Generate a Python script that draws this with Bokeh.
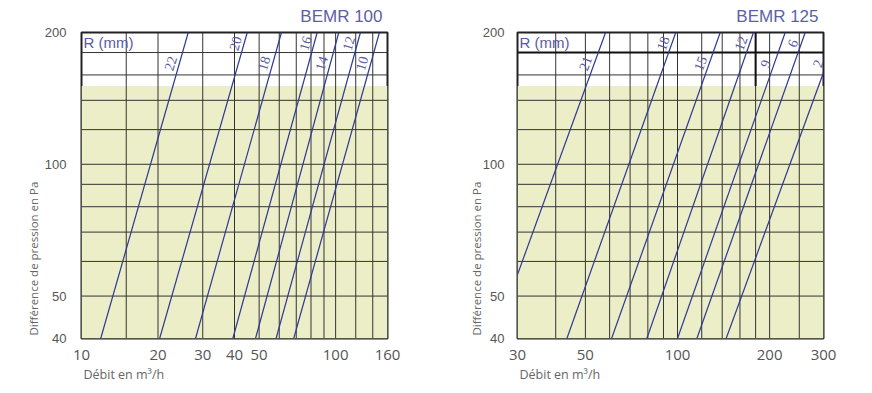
import math
from bokeh.plotting import figure
from bokeh.layouts import row
from bokeh.models import (Range1d, FixedTicker, PrintfTickFormatter, Label, LabelSet,
                          ColumnDataSource, Title)
from bokeh.embed import file_html
from bokeh.resources import INLINE

# ---------------- data ----------------
y_min, y_max = 40, 200
y_ticks = [40, 50, 100, 200]
y_grid = [50, 60, 70, 80, 90, 100, 120, 140, 160, 180]
green_top = 151
row_pressure = {1: 189, 2: 170}

# BEMR 100
l_title = "BEMR 100"
l_xmin, l_xmax = 10, 160
l_xticks = [10, 20, 30, 40, 50, 100, 160]
l_xgrid = [15, 20, 30, 40, 50, 60, 70, 80, 90, 100, 120, 140]
l_labels = ["22", "20", "18", "16", "14", "12", "10"]
l_qa = [11.9, 20.3, 28.1, 39.4, 48.4, 58.3, 68.4]
l_pa = [40, 40, 40, 40, 40, 40, 40]
l_qb = [26.3, 44.9, 61.2, 84.6, 102.9, 125.2, 148.7]
l_pb = [200, 200, 200, 200, 200, 200, 200]
l_rows = [2, 1, 2, 1, 2, 1, 2]
l_heavy_y = []
l_heavy_x = []

# BEMR 125
r_title = "BEMR 125"
r_xmin, r_xmax = 30, 300
r_xticks = [30, 50, 100, 200, 300]
r_xgrid = [40, 50, 60, 70, 80, 90, 100, 120, 140, 160, 180, 200, 250]
r_labels = ["21", "18", "15", "12", "9", "6", "2"]
r_qa = [30, 43.5, 60.9, 79.4, 100, 115.7, 144.2]
r_pa = [56, 40, 40, 40, 40, 40, 40]
r_qb = [58.2, 98.7, 137.9, 177.1, 224.9, 261.4, 300]
r_pb = [200, 200, 200, 200, 200, 200, 162]
r_rows = [2, 1, 2, 1, 2, 1, 2]
r_heavy_y = [180]
r_heavy_x = [180]

GREEN = "#eceec8"
CURVE = "#2d3994"
LABEL = "#5a5aa2"
GRID = "#333333"
GRAYTXT = "#555555"


def q_at(qa, pa, qb, pb, p):
    t = (math.log(p) - math.log(pa)) / (math.log(pb) - math.log(pa))
    return math.exp(math.log(qa) + t * (math.log(qb) - math.log(qa)))


def make_chart(title, xmin, xmax, xticks, xgrid, labels, qa, pa, qb, pb, rows,
               heavy_y, heavy_x, width, bl, br, ytitle_standoff, ystandoff, angle):
    p = figure(width=width, height=385, x_axis_type="log", y_axis_type="log",
               x_range=Range1d(xmin, xmax), y_range=Range1d(y_min, y_max),
               output_backend="svg", toolbar_location=None,
               min_border_left=bl, min_border_right=br,
               min_border_top=32, min_border_bottom=47)
    p.background_fill_color = "white"
    p.border_fill_color = "white"
    p.outline_line_color = "#222222"
    p.outline_line_width = 2
    p.grid.visible = False

    # green zone
    p.quad(left=[xmin], right=[xmax], bottom=[y_min], top=[green_top],
           fill_color=GREEN, line_color=None)
    # grid
    p.segment(x0=xgrid, y0=[y_min] * len(xgrid), x1=xgrid, y1=[y_max] * len(xgrid),
              line_color=GRID, line_width=1)
    p.segment(x0=[xmin] * len(y_grid), y0=y_grid, x1=[xmax] * len(y_grid), y1=y_grid,
              line_color=GRID, line_width=1)
    if heavy_y:
        p.segment(x0=[xmin] * len(heavy_y), y0=heavy_y, x1=[xmax] * len(heavy_y), y1=heavy_y,
                  line_color="#111111", line_width=2)
    if heavy_x:
        p.segment(x0=heavy_x, y0=[green_top] * len(heavy_x), x1=heavy_x, y1=[y_max] * len(heavy_x),
                  line_color="#111111", line_width=2)
    # curves
    p.segment(x0=qa, y0=pa, x1=qb, y1=pb, line_color=CURVE, line_width=1.2)

    # curve labels
    lp = [row_pressure[r] for r in rows]
    lq = [q_at(qa[i], pa[i], qb[i], pb[i], lp[i]) for i in range(len(labels))]
    src = ColumnDataSource(dict(x=lq, y=lp, t=labels))
    p.add_layout(LabelSet(x="x", y="y", text="t", source=src, x_offset=-9,
                          angle=angle, angle_units="deg",
                          text_align="center", text_baseline="middle",
                          text_font="Liberation Sans", text_font_size="14px",
                          text_color=LABEL))

    p.add_layout(Label(x=xmin, y=y_max, x_offset=2, y_offset=-10, text="R (mm)",
                       text_align="left", text_baseline="middle",
                       text_font="Liberation Sans", text_font_size="15px",
                       text_color=LABEL))

    p.add_layout(Title(text=title, align="right", offset=5, standoff=10,
                       vertical_align="top",
                       text_font="Liberation Sans", text_font_size="17px",
                       text_font_style="normal", text_color="#5c5fa6"), "above")
    p.add_layout(Title(text="Débit en m³/h", align="left", offset=2, standoff=3,
                       text_font="Open Sans", text_font_size="12.5px",
                       text_font_style="normal", text_color="#666666"), "below")
    p.add_layout(Title(text="Différence de pression en Pa", align="left", offset=3,
                       standoff=ytitle_standoff,
                       text_font="Open Sans", text_font_size="11.5px",
                       text_font_style="normal", text_color="#666666"), "left")

    # axes
    p.xaxis.ticker = FixedTicker(ticks=xticks)
    p.xaxis.formatter = PrintfTickFormatter(format="%d")
    p.yaxis.ticker = FixedTicker(ticks=y_ticks)
    p.yaxis.formatter = PrintfTickFormatter(format="%d")
    for ax in (p.xaxis, p.yaxis):
        ax.major_tick_line_color = None
        ax.minor_tick_line_color = None
        ax.axis_line_color = None
    p.xaxis.major_label_standoff = 5
    p.xaxis.major_label_text_font = "Open Sans"
    p.xaxis.major_label_text_font_size = "15px"
    p.xaxis.major_label_text_color = GRAYTXT
    p.yaxis.major_label_standoff = ystandoff
    p.yaxis.major_label_text_font = "Liberation Sans"
    p.yaxis.major_label_text_font_size = "13px"
    p.yaxis.major_label_text_color = GRAYTXT
    return p


p1 = make_chart(l_title, l_xmin, l_xmax, l_xticks, l_xgrid, l_labels,
                l_qa, l_pa, l_qb, l_pb, l_rows, l_heavy_y, l_heavy_x,
                440, 81, 53, 2, 9, 73)
p2 = make_chart(r_title, r_xmin, r_xmax, r_xticks, r_xgrid, r_labels,
                r_qa, r_pa, r_qb, r_pb, r_rows, r_heavy_y, r_heavy_x,
                430, 77, 47, -8, 7, 70)

layout = row(p1, p2)
open("out.html", "w").write(file_html(layout, INLINE))
